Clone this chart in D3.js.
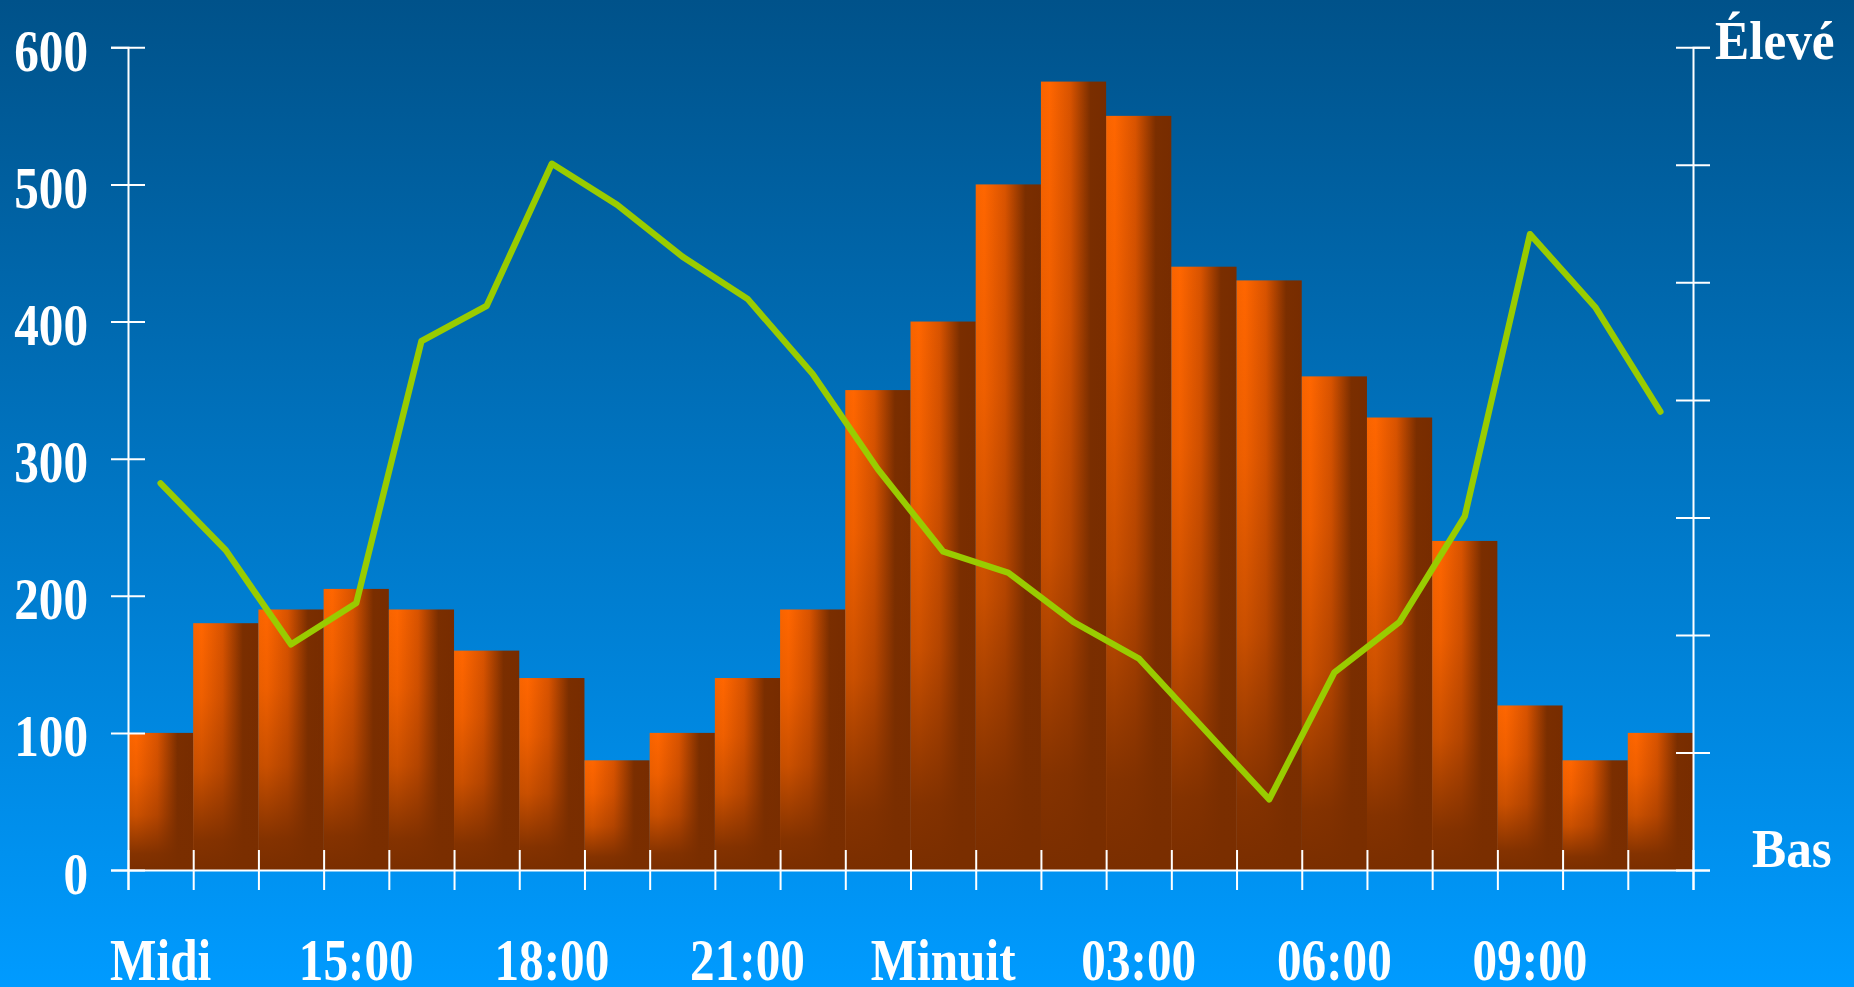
<!DOCTYPE html>
<html>
<head>
<meta charset="utf-8">
<script src="https://cdn.jsdelivr.net/npm/d3@7"></script>
<style>
  html, body { margin: 0; padding: 0; overflow: hidden; }
  svg { display: block; }
  text { font-family: "Liberation Serif", "Times New Roman", serif; font-weight: bold; fill: #ffffff; }
</style>
</head>
<body>
<svg id="chart" width="1854" height="987"></svg>
<script>
// ---------- data ----------
const categories = ["12:00","13:00","14:00","15:00","16:00","17:00","18:00","19:00","20:00","21:00","22:00","23:00",
                    "00:00","01:00","02:00","03:00","04:00","05:00","06:00","07:00","08:00","09:00","10:00","11:00"];
const barValues = [100,180,190,205,190,160,140,80,100,140,190,350,400,500,575,550,440,430,360,330,240,120,80,100];
const lineValues = [3.29,2.72,1.92,2.27,4.50,4.80,6.01,5.66,5.22,4.86,4.22,3.41,2.71,2.53,2.11,1.80,1.20,0.60,1.68,2.11,3.01,5.41,4.79,3.90];
const yTicks = [0,100,200,300,400,500,600];
const rightTicks = [0,1,2,3,4,5,6,7];
const labelCategories = ["12:00","15:00","18:00","21:00","00:00","03:00","06:00","09:00"];
const labelTexts = ["Midi","15:00","18:00","21:00","Minuit","03:00","06:00","09:00"];
const rightTopLabel = "Élevé";
const rightBottomLabel = "Bas";

// ---------- layout ----------
(function(){
const W = 1854, H = 987;
const mLeft = 128, mRight = 1693, mTop = 47.3, mBottom = 870;
const svg = d3.select("#chart");
const defs = svg.append("defs");

const bg = defs.append("linearGradient").attr("id","bg").attr("x1",0).attr("y1",0).attr("x2",0).attr("y2",1);
bg.append("stop").attr("offset",0).attr("stop-color","#00528a");
bg.append("stop").attr("offset",0.5).attr("stop-color","#0076c4");
bg.append("stop").attr("offset",1).attr("stop-color","#009bff");

const gh = defs.append("linearGradient").attr("id","barH").attr("x1",0).attr("y1",0).attr("x2",1).attr("y2",0);
[[0,"#f86400"],[0.13,"#ff6600"],[0.45,"#d85300"],[0.76,"#7a2e00"],[1,"#772c00"]]
  .forEach(([o,c]) => gh.append("stop").attr("offset",o).attr("stop-color",c));

const gv = defs.append("linearGradient").attr("id","barV").attr("x1",0).attr("y1",0).attr("x2",0).attr("y2",1);
[[0,0],[0.3,0.12],[0.6,0.4],[0.88,0.92],[1,1]]
  .forEach(([o,a]) => gv.append("stop").attr("offset",o).attr("stop-color","#7a2e00").attr("stop-opacity",a));

svg.append("rect").attr("width",W).attr("height",H).attr("fill","url(#bg)");

// ---------- scales ----------
const x = d3.scaleBand().domain(categories).range([mLeft, mRight]).padding(0);
const xEdge = d3.scaleLinear().domain([0, categories.length]).range([mLeft, mRight]);
const y = d3.scaleLinear().domain([0, 600]).range([mBottom, mTop]);
const yR = d3.scaleLinear().domain([0, 7]).range([mBottom, mTop]);

// ---------- bars ----------
const bars = svg.append("g");
const data = categories.map((c,i) => ({c, v: barValues[i], l: lineValues[i]}));
bars.selectAll("rect.h").data(data).join("rect").attr("class","h")
  .attr("x", d => x(d.c)).attr("width", x.bandwidth())
  .attr("y", d => y(d.v)).attr("height", d => y(0) - y(d.v))
  .attr("fill","url(#barH)");
bars.selectAll("rect.v").data(data).join("rect").attr("class","v")
  .attr("x", d => x(d.c)).attr("width", x.bandwidth())
  .attr("y", d => y(d.v)).attr("height", d => y(0) - y(d.v))
  .attr("fill","url(#barV)");

// ---------- line ----------
const line = d3.line().x(d => x(d.c) + x.bandwidth()/2).y(d => yR(d.l));
svg.append("path").datum(data).attr("d", line)
  .attr("fill","none").attr("stroke","#99cc00").attr("stroke-width",6.3)
  .attr("stroke-linejoin","round").attr("stroke-linecap","round");

// ---------- axes ----------
function styleAxis(g){
  g.select(".domain").attr("stroke","#ffffff").attr("stroke-width",2);
  g.selectAll(".tick line").attr("stroke","#ffffff").attr("stroke-width",2);
}
const sx = 0.82;

// x boundary ticks
const xAxis = svg.append("g").attr("transform",`translate(0,${mBottom})`)
  .call(d3.axisBottom(xEdge).tickValues(d3.range(categories.length+1)).tickSizeOuter(0).tickSize(20).tickFormat(""));
xAxis.selectAll(".tick line").attr("y1",-20).attr("y2",20);
styleAxis(xAxis);

// x labels
const xLab = svg.append("g").attr("transform",`translate(0,${mBottom})`)
  .call(d3.axisBottom(x).tickValues(labelCategories).tickSize(0)
        .tickFormat(c => labelTexts[labelCategories.indexOf(c)]));
xLab.select(".domain").remove();
xLab.attr("font-family",null).attr("font-size",null);
xLab.selectAll(".tick text").attr("y",110.5).attr("dy",0)
  .attr("font-size",60).attr("fill","#ffffff")
  .attr("transform",`scale(${sx},1)`);

// left axis
const yAxis = svg.append("g").attr("transform",`translate(${mLeft},0)`)
  .call(d3.axisLeft(y).tickValues(yTicks).tickSizeOuter(0).tickSize(17).tickFormat(d3.format("d")));
yAxis.attr("font-family",null).attr("font-size",null);
yAxis.selectAll(".tick line").attr("x1",17).attr("x2",-17);
yAxis.selectAll(".tick text").attr("x",-40/sx).attr("dy",23)
  .attr("font-size",60).attr("fill","#ffffff")
  .attr("text-anchor","end").attr("transform",`scale(${sx},1)`);
styleAxis(yAxis);

// right axis
const rAxis = svg.append("g").attr("transform",`translate(${mRight},0)`)
  .call(d3.axisRight(yR).tickValues(rightTicks).tickSizeOuter(0).tickSize(17).tickFormat(""));
rAxis.selectAll(".tick line").attr("x1",-17).attr("x2",17);
styleAxis(rAxis);

svg.append("text").attr("transform",`translate(1715,59) scale(0.95,1)`)
  .attr("font-size",54).text(rightTopLabel);
svg.append("text").attr("transform",`translate(1752,867) scale(0.95,1)`)
  .attr("font-size",54).text(rightBottomLabel);
})();
</script>
</body>
</html>
